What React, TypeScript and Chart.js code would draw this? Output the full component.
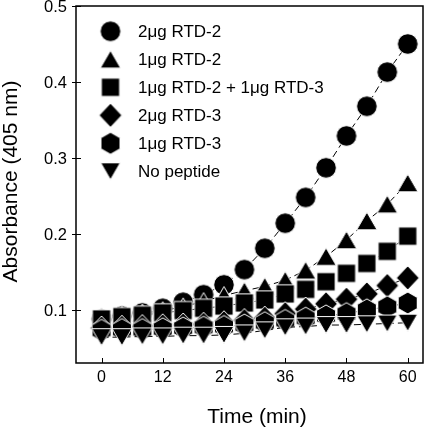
import React, { useEffect, useRef } from 'react';
import { Chart, registerables } from 'chart.js';

Chart.register(...registerables);

// ---------- data ----------
const times = [0, 4, 8, 12, 16, 20, 24, 28, 32, 36, 40, 44, 48, 52, 56, 60];
const seriesLabels = [
  '2μg RTD-2',
  '1μg RTD-2',
  '1μg RTD-2 + 1μg RTD-3',
  '2μg RTD-3',
  '1μg RTD-3',
  'No peptide',
];
const rtd2_2ug = [0.088, 0.092, 0.096, 0.102, 0.110, 0.120, 0.133, 0.153, 0.181, 0.214, 0.248, 0.287, 0.329, 0.368, 0.413, 0.450];
const rtd2_1ug = [0.091, 0.093, 0.096, 0.099, 0.104, 0.111, 0.119, 0.125, 0.131, 0.139, 0.152, 0.170, 0.192, 0.217, 0.239, 0.267];
const rtd2_rtd3 = [0.088, 0.091, 0.093, 0.096, 0.099, 0.102, 0.105, 0.109, 0.113, 0.121, 0.127, 0.137, 0.148, 0.161, 0.177, 0.197];
const rtd3_2ug = [0.076, 0.077, 0.078, 0.079, 0.080, 0.081, 0.083, 0.086, 0.089, 0.095, 0.101, 0.108, 0.114, 0.121, 0.132, 0.142];
const rtd3_1ug = [0.073, 0.074, 0.074, 0.075, 0.076, 0.077, 0.078, 0.080, 0.083, 0.086, 0.089, 0.092, 0.095, 0.100, 0.104, 0.109];
const noPeptide = [0.064, 0.064, 0.065, 0.065, 0.066, 0.066, 0.067, 0.069, 0.073, 0.077, 0.078, 0.080, 0.080, 0.081, 0.082, 0.083];
const markerKinds = ['circle', 'triangle', 'square', 'diamond', 'hexagon', 'triangleDown'];
const xTickValues = [0, 12, 24, 36, 48, 60];
const yTickValues = [0.1, 0.2, 0.3, 0.4, 0.5];

const FONT = '"Liberation Sans", Arial, Helvetica, sans-serif';

function makeMarker(kind: string): HTMLCanvasElement {
  const S = 30;
  const c = 15;
  const cv = document.createElement('canvas');
  cv.width = S;
  cv.height = S;
  const ctx = cv.getContext('2d') as CanvasRenderingContext2D;
  ctx.beginPath();
  if (kind === 'circle') {
    ctx.arc(c, c, 10.3, 0, Math.PI * 2);
  } else if (kind === 'triangle') {
    const r = 11.8;
    const h = 1.5 * r;
    const half = (r * Math.sqrt(3)) / 2;
    const top = c - h / 2;
    ctx.moveTo(c, top);
    ctx.lineTo(c + half, top + h);
    ctx.lineTo(c - half, top + h);
  } else if (kind === 'square') {
    ctx.rect(c - 9.1, c - 9.1, 18.2, 18.2);
  } else if (kind === 'diamond') {
    ctx.moveTo(c, c - 12);
    ctx.lineTo(c + 11.4, c);
    ctx.lineTo(c, c + 12);
    ctx.lineTo(c - 11.4, c);
  } else if (kind === 'hexagon') {
    const r = 11;
    for (let i = 0; i < 6; i++) {
      const a = (-90 + 60 * i) * (Math.PI / 180);
      const px = c + r * Math.cos(a);
      const py = c + r * Math.sin(a);
      if (i === 0) ctx.moveTo(px, py);
      else ctx.lineTo(px, py);
    }
  } else {
    const r = 11.3;
    const h = 1.5 * r;
    const half = (r * Math.sqrt(3)) / 2;
    const top = c - h / 2;
    ctx.moveTo(c - half, top);
    ctx.lineTo(c + half, top);
    ctx.lineTo(c, top + h);
  }
  ctx.closePath();
  ctx.fillStyle = '#000';
  ctx.fill();
  ctx.strokeStyle = '#fff';
  ctx.lineWidth = 1;
  ctx.stroke();
  return cv;
}

export default function App() {
  const canvasRef = useRef<HTMLCanvasElement | null>(null);

  useEffect(() => {
    const canvas = canvasRef.current;
    if (!canvas) return;
    const markers = markerKinds.map(makeMarker);
    const allSeries = [rtd2_2ug, rtd2_1ug, rtd2_rtd3, rtd3_2ug, rtd3_1ug, noPeptide];
    const drawOrder = [6, 5, 4, 3, 2, 1];

    const datasets = allSeries.map((vals, i) => ({
      label: seriesLabels[i],
      data: times.map((t, j) => ({ x: t, y: vals[j] })),
      borderColor: '#000',
      backgroundColor: '#000',
      borderWidth: 1,
      borderDash: [7, 4],
      pointStyle: markers[i],
      pointRadius: 10,
      pointHoverRadius: 10,
      tension: 0,
      order: drawOrder[i],
      clip: false as any,
    }));

    const decor = {
      id: 'decor',
      beforeDatasetsDraw(chart: any) {
        const { ctx, chartArea } = chart;
        const { left, right, top, bottom } = chartArea;
        ctx.save();
        ctx.strokeStyle = '#000';
        ctx.lineWidth = 1.5;
        ctx.strokeRect(left, top, right - left, bottom - top);
        ctx.lineWidth = 1;
        const xs = chart.scales.x;
        xs.ticks.forEach((t: any) => {
          const px = Math.round(xs.getPixelForValue(t.value)) + 0.5;
          ctx.beginPath();
          ctx.moveTo(px, bottom);
          ctx.lineTo(px, bottom - 5);
          ctx.stroke();
        });
        const ys = chart.scales.y;
        ys.ticks.forEach((t: any) => {
          const py = Math.round(ys.getPixelForValue(t.value)) + 0.5;
          ctx.beginPath();
          ctx.moveTo(left - 4, py);
          ctx.lineTo(left + 5, py);
          ctx.stroke();
        });
        ctx.restore();
      },
      afterDraw(chart: any) {
        const { ctx } = chart;
        ctx.save();
        ctx.fillStyle = '#000';
        ctx.font = `17px ${FONT}`;
        ctx.textBaseline = 'middle';
        ctx.textAlign = 'left';
        seriesLabels.forEach((lab, i) => {
          const y = 31.3 + i * 28;
          const m = markers[i];
          ctx.drawImage(m, 110.5 - m.width / 2, y - m.height / 2);
          ctx.fillText(lab, 138, y + 1);
        });
        ctx.font = `21px ${FONT}`;
        ctx.textAlign = 'center';
        ctx.textBaseline = 'alphabetic';
        ctx.fillText('Time (min)', 257, 423);
        ctx.translate(16.7, 181.5);
        ctx.rotate(-Math.PI / 2);
        ctx.fillText('Absorbance (405 nm)', 0, 0);
        ctx.restore();
      },
    };

    const chart = new Chart(canvas, {
      type: 'line',
      data: { datasets: datasets as any },
      options: {
        animation: false,
        responsive: false,
        devicePixelRatio: 1,
        events: [],
        layout: { padding: { top: 6, right: 10, left: 0, bottom: 0 }, autoPadding: false } as any,
        plugins: {
          legend: { display: false },
          tooltip: { enabled: false },
          title: { display: false },
        },
        scales: {
          x: {
            type: 'linear',
            min: -5,
            max: 63,
            grid: { display: false, drawTicks: false },
            border: { display: false },
            ticks: {
              color: '#000',
              font: { size: 16, family: FONT },
              padding: 5,
              maxRotation: 0,
              autoSkip: false,
            },
            afterBuildTicks: (s: any) => {
              s.ticks = xTickValues.map((v) => ({ value: v }));
            },
            afterFit: (s: any) => {
              s.height = 64;
              s.paddingLeft = 0;
              s.paddingRight = 0;
            },
          },
          y: {
            type: 'linear',
            min: 0.03,
            max: 0.5,
            grid: { display: false, drawTicks: false },
            border: { display: false },
            ticks: {
              color: '#000',
              font: { size: 16.5, family: FONT },
              padding: 9,
              labelOffset: 1.5,
              autoSkip: false,
              callback: (v: any) => Number(v).toFixed(1),
            },
            afterBuildTicks: (s: any) => {
              s.ticks = yTickValues.map((v) => ({ value: v }));
            },
            afterFit: (s: any) => {
              s.width = 76;
              s.paddingTop = 0;
              s.paddingBottom = 0;
            },
          },
        },
      },
      plugins: [decor],
    });

    return () => chart.destroy();
  }, []);

  return (
    <div style={{ position: 'absolute', left: 0, top: 0, width: 433, height: 427, background: '#fff', overflow: 'hidden' }}>
      <canvas ref={canvasRef} width={433} height={427} style={{ display: 'block' }} />
    </div>
  );
}
